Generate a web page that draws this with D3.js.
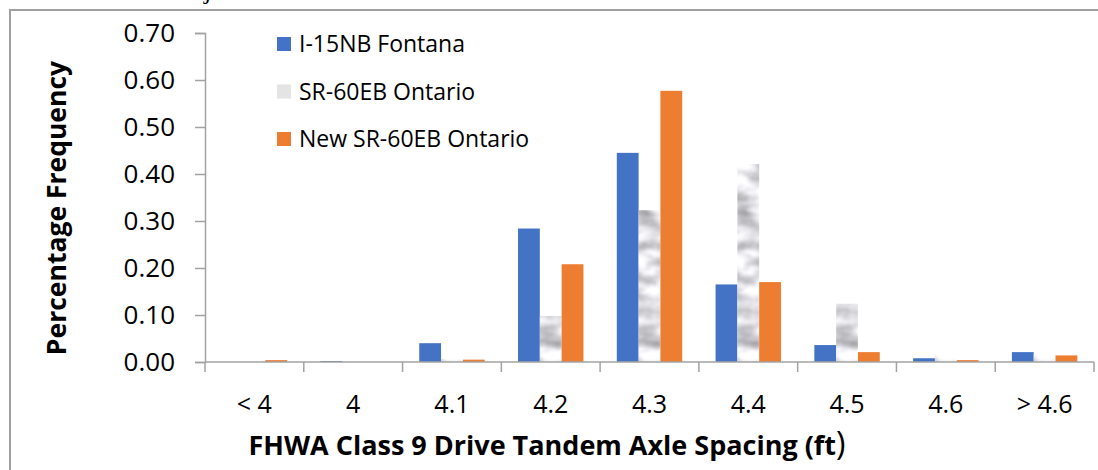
<!DOCTYPE html>
<html>
<head>
<meta charset="utf-8">
<script src="https://cdn.jsdelivr.net/npm/d3@7"></script>
<style>
  html, body { margin: 0; padding: 0; background: #fff; }
  svg { display: block; }
  text { font-family: "Open Sans", "Noto Sans", sans-serif; fill: #000; }
</style>
</head>
<body>
<svg id="chart" width="1098" height="470"></svg>
<script>
// Axle spacing bins (ft)
const categories = ["< 4", "4", "4.1", "4.2", "4.3", "4.4", "4.5", "4.6", "> 4.6"];
const seriesNames = ["I-15NB Fontana", "SR-60EB Ontario", "New SR-60EB Ontario"];
// Share of trucks in each bin
const fontana    = [0.000, 0.002, 0.040, 0.284, 0.445, 0.165, 0.036, 0.008, 0.021];
const ontario    = [0.000, 0.000, 0.006, 0.098, 0.323, 0.421, 0.124, 0.015, 0.017];
const newOntario = [0.004, 0.000, 0.005, 0.208, 0.577, 0.170, 0.021, 0.004, 0.014];
const yTicks = [0, 0.1, 0.2, 0.3, 0.4, 0.5, 0.6, 0.7];

const seriesValues = [fontana, ontario, newOntario];

const svg = d3.select("#chart");
const axisColor = "#a3a3a3";

// Mottled grey marble texture for the SR-60EB series
const defs = svg.append("defs");
const marble = defs.append("filter")
  .attr("id", "marble")
  .attr("filterUnits", "userSpaceOnUse")
  .attr("color-interpolation-filters", "sRGB")
  .attr("x", 0).attr("y", 0).attr("width", 1098).attr("height", 470);
marble.append("feTurbulence")
  .attr("type", "fractalNoise")
  .attr("baseFrequency", "0.035 0.06")
  .attr("numOctaves", 4)
  .attr("seed", 11)
  .attr("result", "noise");
marble.append("feColorMatrix")
  .attr("in", "noise")
  .attr("type", "matrix")
  .attr("values",
    "0.75 0 0 0 0.5  0.75 0 0 0 0.5  0.75 0 0 0 0.52  0 0 0 0 1")
  .attr("result", "tone");
marble.append("feGaussianBlur")
  .attr("in", "tone")
  .attr("stdDeviation", 0.8)
  .attr("result", "soft");
marble.append("feComposite")
  .attr("in", "soft")
  .attr("in2", "SourceGraphic")
  .attr("operator", "in");

// Outer frame (left and top edges)
svg.append("path")
  .attr("d", "M10,470 L10,10 L1098,10")
  .attr("fill", "none")
  .attr("stroke", "#a0a0a0")
  .attr("stroke-width", 2);

// Descender of a caption line above the frame
svg.append("text")
  .attr("x", 204).attr("y", -1)
  .style("font-family", "'Liberation Serif', serif")
  .attr("font-size", 26)
  .text("j");

const plot = { left: 205, right: 1094, top: 33, bottom: 362 };

const x = d3.scaleBand()
  .domain(categories)
  .range([plot.left, plot.right])
  .paddingInner(0).paddingOuter(0);

const x1 = d3.scaleBand()
  .domain(seriesNames)
  .range([0, x.bandwidth()])
  .paddingInner(0).paddingOuter(0.765);

const y = d3.scaleLinear()
  .domain([0, 0.7])
  .range([plot.bottom, plot.top]);

const colors = {
  "I-15NB Fontana": "#4472C4",
  "SR-60EB Ontario": "#e6e6e6",
  "New SR-60EB Ontario": "#ED7D31"
};

// Y axis
const yAxis = svg.append("g")
  .attr("transform", `translate(${plot.left},0)`)
  .call(d3.axisLeft(y).tickValues(yTicks).tickFormat(d3.format(".2f"))
    .tickSize(10).tickPadding(20));
yAxis.select(".domain").attr("stroke", axisColor).attr("stroke-width", 1.5);
yAxis.selectAll(".tick line").attr("stroke", axisColor).attr("stroke-width", 1.5);
yAxis.selectAll(".tick text")
  .attr("font-size", 26)
  .style("font-family", "'Open Sans', sans-serif")
  .attr("fill", "#000");

// Bars
const groups = svg.append("g").selectAll("g")
  .data(categories)
  .join("g")
  .attr("transform", d => `translate(${x(d)},0)`);

groups.selectAll("rect")
  .data((d, i) => seriesNames.map((s, k) => ({ s, v: seriesValues[k][i] })))
  .join("rect")
  .attr("x", d => x1(d.s))
  .attr("width", x1.bandwidth())
  .attr("y", d => y(d.v))
  .attr("height", d => y(0) - y(d.v))
  .attr("fill", d => d.s === "SR-60EB Ontario" ? "#d8d8d8" : colors[d.s])
  .attr("filter", d => d.s === "SR-60EB Ontario" ? "url(#marble)" : null);

// X axis line and boundary ticks
const xAxis = svg.append("g");
xAxis.append("line")
  .attr("x1", plot.left).attr("x2", plot.right)
  .attr("y1", y(0)).attr("y2", y(0))
  .attr("stroke", axisColor).attr("stroke-width", 1.5);
const boundaries = categories.map(c => x(c)).concat([x(categories[categories.length - 1]) + x.bandwidth()]);
xAxis.selectAll("line.tick")
  .data(boundaries)
  .join("line")
  .attr("class", "tick")
  .attr("x1", d => d).attr("x2", d => d)
  .attr("y1", y(0)).attr("y2", y(0) + 10)
  .attr("stroke", axisColor).attr("stroke-width", 1.5);
xAxis.selectAll("text")
  .data(categories)
  .join("text")
  .attr("x", d => x(d) + x.bandwidth() / 2)
  .attr("y", 413)
  .attr("text-anchor", "middle")
  .attr("font-size", 25)
  .text(d => d);

// Axis titles
const xTitle = svg.append("text")
  .attr("x", 547).attr("y", 455)
  .attr("text-anchor", "middle")
  .attr("font-size", 27)
  .attr("font-weight", "bold");
xTitle.append("tspan").text("FHWA Class 9 Drive Tandem Axle Spacing (ft");
xTitle.append("tspan").attr("font-size", 32).attr("font-weight", "normal").text(")");

svg.append("text")
  .attr("transform", "translate(66,208) rotate(-90)")
  .attr("text-anchor", "middle")
  .attr("font-size", 26.5)
  .attr("font-weight", "bold")
  .text("Percentage Frequency");

// Legend
const legend = svg.append("g")
  .selectAll("g")
  .data(seriesNames)
  .join("g")
  .attr("transform", (d, i) => `translate(277,${44 + i * 47.5})`);
legend.append("rect")
  .attr("x", 0).attr("y", -7)
  .attr("width", 14).attr("height", 14)
  .attr("fill", d => d === "SR-60EB Ontario" ? "#e4e4e4" : colors[d]);
legend.append("text")
  .attr("x", 22).attr("y", 8)
  .attr("font-size", 23)
  .text(d => d);
</script>
</body>
</html>
